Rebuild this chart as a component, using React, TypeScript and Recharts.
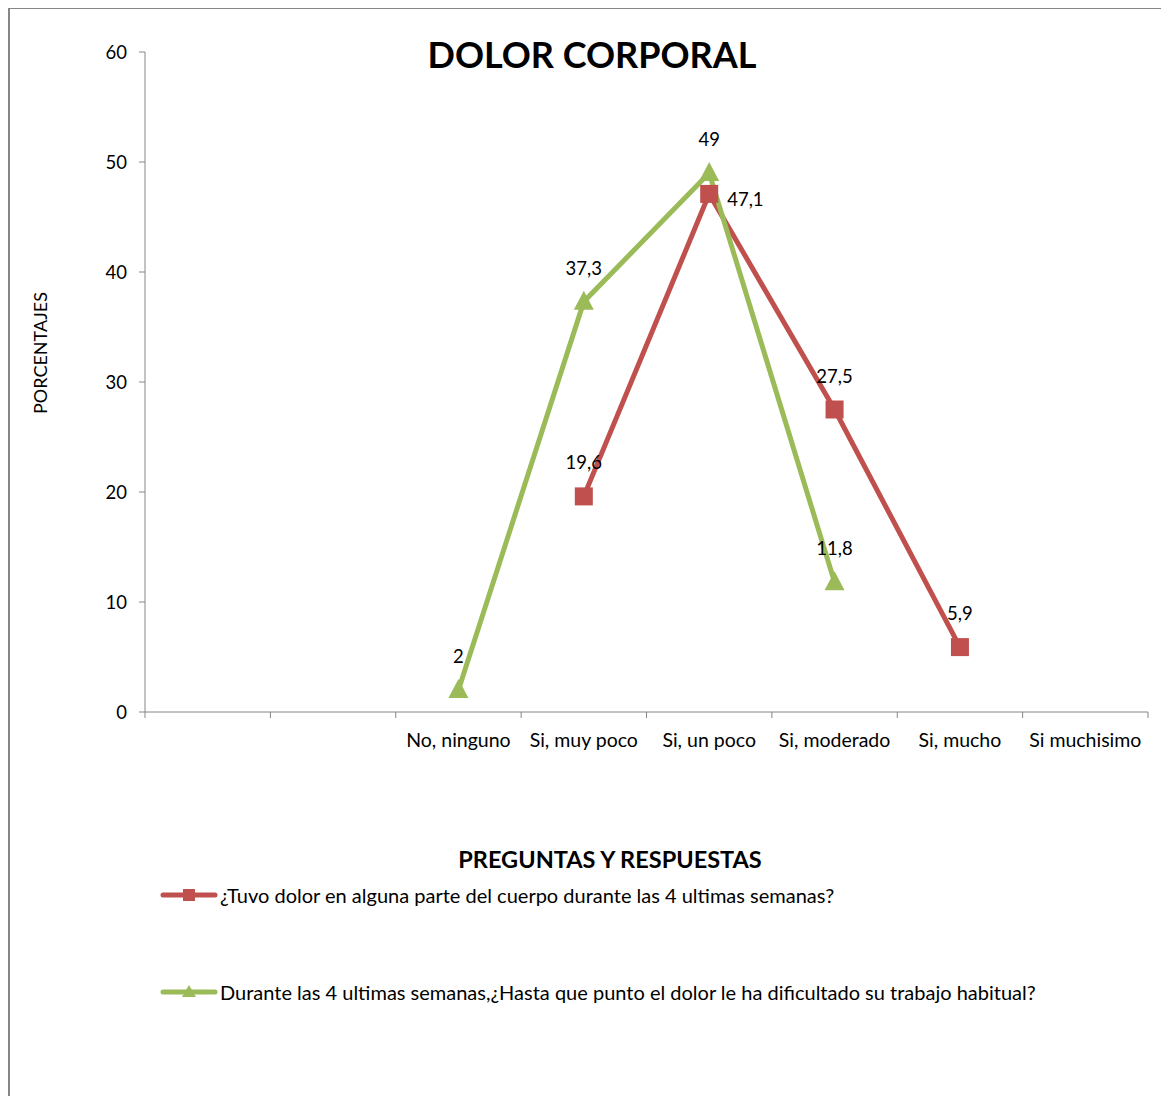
import { LineChart, Line, XAxis, YAxis, LabelList } from "recharts";

const categories = ["", "", "No, ninguno", "Si, muy poco", "Si, un poco", "Si, moderado", "Si, mucho", "Si muchisimo"];
const tuvoDolor = [null, null, null, 19.6, 47.1, 27.5, 5.9, null];
const dificultad = [null, null, 2, 37.3, 49, 11.8, null, null];
const yTicks = [0, 10, 20, 30, 40, 50, 60];
const seriesNames = [
  "¿Tuvo dolor en alguna parte del cuerpo durante las 4 ultimas semanas?",
  "Durante las 4 ultimas semanas,¿Hasta que punto el dolor le ha dificultado su trabajo habitual?",
];

const RED = "#C0504D";
const GREEN = "#9BBB59";
const AXIS = "#868686";
const FONT = "Lato, 'Open Sans', sans-serif";

const W = 1161;
const H = 1089;
const PLOT_LEFT = 137;
const PLOT_RIGHT = 21;
const BAND = (W - PLOT_LEFT - PLOT_RIGHT) / categories.length;

const data = categories.map((cat, i) => ({
  pos: i + 0.5,
  cat,
  tuvo: tuvoDolor[i],
  dif: dificultad[i],
}));

// the red peak sits under the green one, so its label goes to the right
const peakIndex = tuvoDolor.reduce((best, v, i) => (v != null && v > (tuvoDolor[best] ?? -1) ? i : best), 0);

const fmt = (v: number) => String(v).replace(".", ",");

function BandTick(props: any) {
  const { x, y, payload } = props;
  const label = categories[Math.round(payload.value)];
  if (!label) return null;
  return (
    <text x={x + BAND / 2} y={y + 27} textAnchor="middle" fontSize={19.5} fill="#000" fontFamily={FONT}>
      {label}
    </text>
  );
}

function makeLabel(series: "tuvo" | "dif") {
  return (props: any) => {
    const { x, y, value, index } = props;
    if (value == null) return null;
    const right = series === "tuvo" && index === peakIndex;
    return (
      <text
        x={right ? x + 18 : x}
        y={right ? y + 12 : y - 27}
        textAnchor={right ? "start" : "middle"}
        fontSize={18.5}
        fill="#000"
        fontFamily={FONT}
      >
        {fmt(value)}
      </text>
    );
  };
}

function SquareDot(props: any) {
  const { cx, cy, value } = props;
  if (value == null || cx == null) return null;
  return <rect x={cx - 9} y={cy - 9} width={18} height={18} fill={RED} />;
}

function TriangleDot(props: any) {
  const { cx, cy, value } = props;
  if (value == null || cx == null) return null;
  return <polygon points={`${cx},${cy - 11} ${cx + 10},${cy + 8} ${cx - 10},${cy + 8}`} fill={GREEN} />;
}

function LegendIcon({ color, shape }: { color: string; shape: "square" | "triangle" }) {
  return (
    <svg width={58} height={16} style={{ display: "block" }}>
      <line x1={3} y1={8} x2={55} y2={8} stroke={color} strokeWidth={5} strokeLinecap="round" />
      {shape === "square" ? (
        <rect x={23} y={2} width={12} height={12} fill={color} />
      ) : (
        <polygon points="29,1 36,13 22,13" fill={color} />
      )}
    </svg>
  );
}

export default function App() {
  return (
    <div
      style={{
        position: "relative",
        width: W,
        height: H,
        marginTop: -1,
        borderLeft: `2px solid ${AXIS}`,
        borderTop: `2px solid ${AXIS}`,
        boxSizing: "border-box",
        fontFamily: FONT,
        background: "#fff",
      }}
    >
      <div style={{ position: "absolute", left: -2, top: -1 }}>
        <LineChart width={W} height={H} data={data} margin={{ top: 44, right: PLOT_RIGHT, bottom: 325, left: 0 }}>
          <XAxis
            dataKey="pos"
            type="number"
            domain={[0, categories.length]}
            ticks={categories.map((_, i) => i).concat([categories.length])}
            tick={<BandTick />}
            tickLine={{ stroke: AXIS }}
            axisLine={{ stroke: AXIS }}
            tickSize={6}
            height={60}
            interval={0}
          />
          <YAxis
            domain={[0, 60]}
            ticks={yTicks}
            width={PLOT_LEFT}
            tickLine={{ stroke: AXIS }}
            axisLine={{ stroke: AXIS }}
            tickSize={6}
            tickMargin={12}
            tick={{ fontSize: 18.5, fill: "#000", fontFamily: FONT }}
          />
          <Line
            dataKey="tuvo"
            stroke={RED}
            strokeWidth={5}
            dot={<SquareDot />}
            activeDot={false}
            connectNulls={false}
            isAnimationActive={false}
          >
            <LabelList dataKey="tuvo" content={makeLabel("tuvo")} />
          </Line>
          <Line
            dataKey="dif"
            stroke={GREEN}
            strokeWidth={5}
            dot={<TriangleDot />}
            activeDot={false}
            connectNulls={false}
            isAnimationActive={false}
          >
            <LabelList dataKey="dif" content={makeLabel("dif")} />
          </Line>
        </LineChart>
      </div>

      <div
        style={{
          position: "absolute",
          left: 582 - 300,
          top: 22,
          width: 600,
          textAlign: "center",
          fontSize: 36,
          fontWeight: 700,
          lineHeight: "46px",
        }}
      >
        DOLOR CORPORAL
      </div>

      <div
        style={{
          position: "absolute",
          left: 30 - 100,
          top: 344 - 11,
          width: 200,
          textAlign: "center",
          fontSize: 18,
          lineHeight: "22px",
          transform: "rotate(-90deg)",
        }}
      >
        PORCENTAJES
      </div>

      <div
        style={{
          position: "absolute",
          left: 600 - 300,
          top: 835,
          width: 600,
          textAlign: "center",
          fontSize: 23.5,
          fontWeight: 700,
          lineHeight: "30px",
        }}
      >
        PREGUNTAS Y RESPUESTAS
      </div>

      {seriesNames.map((name, i) => (
        <div
          key={name}
          style={{
            position: "absolute",
            left: 150,
            top: i === 0 ? 873 : 970,
            display: "flex",
            alignItems: "center",
            gap: 2,
            fontSize: 20,
            lineHeight: "26px",
          }}
        >
          <LegendIcon color={i === 0 ? RED : GREEN} shape={i === 0 ? "square" : "triangle"} />
          <span>{name}</span>
        </div>
      ))}
    </div>
  );
}
